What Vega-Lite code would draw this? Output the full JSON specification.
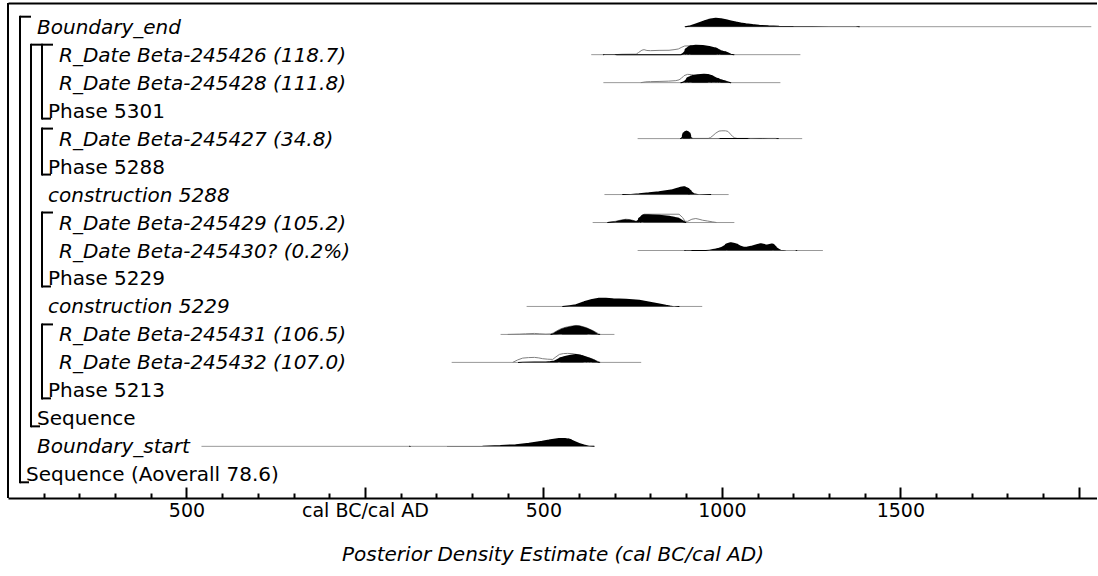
{
  "$schema": "https://vega.github.io/schema/vega-lite/v6.json",
  "autosize": "none",
  "padding": {"left": 8, "top": 3, "right": 0, "bottom": 78},
  "width": 1089,
  "height": 495,
  "config": {"view": {"stroke": null}, "font": "DejaVu Sans", "axis": {"labelOverlap": false, "grid": false}},
  "datasets": {
    "labels": [
      {"row": 0, "label": "Boundary_end", "depth": 1, "kind": "Boundary"},
      {"row": 1, "label": "R_Date Beta-245426 (118.7)", "depth": 3, "kind": "R_Date"},
      {"row": 2, "label": "R_Date Beta-245428 (111.8)", "depth": 3, "kind": "R_Date"},
      {"row": 3, "label": "Phase 5301", "depth": 2, "kind": "Phase"},
      {"row": 4, "label": "R_Date Beta-245427 (34.8)", "depth": 3, "kind": "R_Date"},
      {"row": 5, "label": "Phase 5288", "depth": 2, "kind": "Phase"},
      {"row": 6, "label": "construction 5288", "depth": 2, "kind": "Date"},
      {"row": 7, "label": "R_Date Beta-245429 (105.2)", "depth": 3, "kind": "R_Date"},
      {"row": 8, "label": "R_Date Beta-245430? (0.2%)", "depth": 3, "kind": "R_Date"},
      {"row": 9, "label": "Phase 5229", "depth": 2, "kind": "Phase"},
      {"row": 10, "label": "construction 5229", "depth": 2, "kind": "Date"},
      {"row": 11, "label": "R_Date Beta-245431 (106.5)", "depth": 3, "kind": "R_Date"},
      {"row": 12, "label": "R_Date Beta-245432 (107.0)", "depth": 3, "kind": "R_Date"},
      {"row": 13, "label": "Phase 5213", "depth": 2, "kind": "Phase"},
      {"row": 14, "label": "Sequence", "depth": 1, "kind": "Sequence"},
      {"row": 15, "label": "Boundary_start", "depth": 1, "kind": "Boundary"},
      {"row": 16, "label": "Sequence (Aoverall 78.6)", "depth": 0, "kind": "Sequence"}
    ],
    "brackets": [
      {"depth": 0, "r0": 0, "r1": 16},
      {"depth": 1, "r0": 1, "r1": 14},
      {"depth": 2, "r0": 1, "r1": 3},
      {"depth": 2, "r0": 4, "r1": 5},
      {"depth": 2, "r0": 7, "r1": 9},
      {"depth": 2, "r0": 11, "r1": 13}
    ],
    "ranges": [
      {"row": 0, "start": 898, "end": 2035},
      {"row": 1, "start": 634, "end": 1220},
      {"row": 2, "start": 668, "end": 1164},
      {"row": 4, "start": 764, "end": 1225},
      {"row": 6, "start": 671, "end": 1019},
      {"row": 7, "start": 638, "end": 1035},
      {"row": 8, "start": 764, "end": 1283},
      {"row": 10, "start": 453, "end": 945},
      {"row": 11, "start": 380, "end": 699},
      {"row": 12, "start": 243, "end": 774},
      {"row": 15, "start": -458, "end": 643}
    ],
    "prior": [
      {"row": 1, "year": 700, "p": 0}, {"row": 1, "year": 720, "p": 0.04}, {"row": 1, "year": 745, "p": 0.05}, {"row": 1, "year": 760, "p": 0.05}, {"row": 1, "year": 766, "p": 0.2}, {"row": 1, "year": 776, "p": 0.45}, {"row": 1, "year": 782, "p": 0.5}, {"row": 1, "year": 790, "p": 0.42}, {"row": 1, "year": 800, "p": 0.4}, {"row": 1, "year": 824, "p": 0.43}, {"row": 1, "year": 852, "p": 0.44}, {"row": 1, "year": 866, "p": 0.5}, {"row": 1, "year": 878, "p": 0.57}, {"row": 1, "year": 888, "p": 0.75}, {"row": 1, "year": 896, "p": 0.87}, {"row": 1, "year": 910, "p": 0.88}, {"row": 1, "year": 920, "p": 0.9}, {"row": 1, "year": 960, "p": 0.8}, {"row": 1, "year": 1000, "p": 0.4}, {"row": 1, "year": 1020, "p": 0.08}, {"row": 1, "year": 1030, "p": 0},
      {"row": 2, "year": 773, "p": 0}, {"row": 2, "year": 787, "p": 0.08}, {"row": 2, "year": 800, "p": 0.1}, {"row": 2, "year": 824, "p": 0.12}, {"row": 2, "year": 850, "p": 0.15}, {"row": 2, "year": 871, "p": 0.2}, {"row": 2, "year": 880, "p": 0.28}, {"row": 2, "year": 887, "p": 0.45}, {"row": 2, "year": 894, "p": 0.7}, {"row": 2, "year": 904, "p": 0.83}, {"row": 2, "year": 915, "p": 0.8}, {"row": 2, "year": 960, "p": 0.6}, {"row": 2, "year": 1000, "p": 0.25}, {"row": 2, "year": 1020, "p": 0.06}, {"row": 2, "year": 1025, "p": 0},
      {"row": 4, "year": 884, "p": 0}, {"row": 4, "year": 890, "p": 0.18}, {"row": 4, "year": 894, "p": 0.4}, {"row": 4, "year": 901, "p": 0.7}, {"row": 4, "year": 908, "p": 0.4}, {"row": 4, "year": 914, "p": 0.1}, {"row": 4, "year": 919, "p": 0.02}, {"row": 4, "year": 962, "p": 0.02}, {"row": 4, "year": 968, "p": 0.1}, {"row": 4, "year": 975, "p": 0.3}, {"row": 4, "year": 983, "p": 0.55}, {"row": 4, "year": 992, "p": 0.75}, {"row": 4, "year": 1000, "p": 0.78}, {"row": 4, "year": 1010, "p": 0.78}, {"row": 4, "year": 1017, "p": 0.72}, {"row": 4, "year": 1024, "p": 0.45}, {"row": 4, "year": 1030, "p": 0.22}, {"row": 4, "year": 1036, "p": 0.07}, {"row": 4, "year": 1043, "p": 0.02}, {"row": 4, "year": 1150, "p": 0.02}, {"row": 4, "year": 1158, "p": 0},
      {"row": 7, "year": 680, "p": 0}, {"row": 7, "year": 703, "p": 0.13}, {"row": 7, "year": 718, "p": 0.25}, {"row": 7, "year": 731, "p": 0.33}, {"row": 7, "year": 740, "p": 0.3}, {"row": 7, "year": 750, "p": 0.23}, {"row": 7, "year": 760, "p": 0.12}, {"row": 7, "year": 766, "p": 0.25}, {"row": 7, "year": 773, "p": 0.57}, {"row": 7, "year": 782, "p": 0.83}, {"row": 7, "year": 880, "p": 0.83}, {"row": 7, "year": 890, "p": 0.5}, {"row": 7, "year": 897, "p": 0.12}, {"row": 7, "year": 904, "p": 0.12}, {"row": 7, "year": 916, "p": 0.33}, {"row": 7, "year": 927, "p": 0.4}, {"row": 7, "year": 936, "p": 0.33}, {"row": 7, "year": 946, "p": 0.23}, {"row": 7, "year": 960, "p": 0.15}, {"row": 7, "year": 973, "p": 0.07}, {"row": 7, "year": 985, "p": 0},
      {"row": 11, "year": 400, "p": 0}, {"row": 11, "year": 433, "p": 0.03}, {"row": 11, "year": 450, "p": 0.06}, {"row": 11, "year": 475, "p": 0.1}, {"row": 11, "year": 490, "p": 0.06}, {"row": 11, "year": 507, "p": 0.03}, {"row": 11, "year": 521, "p": 0.05}, {"row": 11, "year": 528, "p": 0.15}, {"row": 11, "year": 535, "p": 0.3}, {"row": 11, "year": 545, "p": 0.5}, {"row": 11, "year": 556, "p": 0.65}, {"row": 11, "year": 568, "p": 0.77}, {"row": 11, "year": 591, "p": 0.9}, {"row": 11, "year": 600, "p": 0.88}, {"row": 11, "year": 620, "p": 0.68}, {"row": 11, "year": 640, "p": 0.36}, {"row": 11, "year": 655, "p": 0.05}, {"row": 11, "year": 660, "p": 0},
      {"row": 12, "year": 414, "p": 0}, {"row": 12, "year": 428, "p": 0.25}, {"row": 12, "year": 442, "p": 0.43}, {"row": 12, "year": 458, "p": 0.48}, {"row": 12, "year": 475, "p": 0.5}, {"row": 12, "year": 487, "p": 0.45}, {"row": 12, "year": 498, "p": 0.37}, {"row": 12, "year": 512, "p": 0.32}, {"row": 12, "year": 526, "p": 0.3}, {"row": 12, "year": 535, "p": 0.55}, {"row": 12, "year": 545, "p": 0.8}, {"row": 12, "year": 556, "p": 0.88}, {"row": 12, "year": 568, "p": 0.9}, {"row": 12, "year": 580, "p": 0.88}, {"row": 12, "year": 600, "p": 0.75}, {"row": 12, "year": 620, "p": 0.55}, {"row": 12, "year": 640, "p": 0.3}, {"row": 12, "year": 655, "p": 0.05}, {"row": 12, "year": 660, "p": 0}
    ],
    "post": [
      {"row": 0, "year": 897, "p": 0}, {"row": 0, "year": 912, "p": 0.15}, {"row": 0, "year": 927, "p": 0.33}, {"row": 0, "year": 941, "p": 0.5}, {"row": 0, "year": 955, "p": 0.67}, {"row": 0, "year": 969, "p": 0.82}, {"row": 0, "year": 983, "p": 0.9}, {"row": 0, "year": 997, "p": 0.85}, {"row": 0, "year": 1011, "p": 0.74}, {"row": 0, "year": 1025, "p": 0.62}, {"row": 0, "year": 1039, "p": 0.51}, {"row": 0, "year": 1053, "p": 0.42}, {"row": 0, "year": 1067, "p": 0.34}, {"row": 0, "year": 1085, "p": 0.26}, {"row": 0, "year": 1104, "p": 0.2}, {"row": 0, "year": 1130, "p": 0.14}, {"row": 0, "year": 1160, "p": 0.1}, {"row": 0, "year": 1200, "p": 0.07}, {"row": 0, "year": 1253, "p": 0.045}, {"row": 0, "year": 1300, "p": 0.03}, {"row": 0, "year": 1375, "p": 0.02}, {"row": 0, "year": 1385, "p": 0},
      {"row": 1, "year": 668, "p": 0}, {"row": 1, "year": 672, "p": 0.04}, {"row": 1, "year": 700, "p": 0.04}, {"row": 1, "year": 706, "p": 0}, {"row": 1, "year": 885, "p": 0}, {"row": 1, "year": 892, "p": 0.2}, {"row": 1, "year": 899, "p": 0.43}, {"row": 1, "year": 906, "p": 0.75}, {"row": 1, "year": 913, "p": 0.93}, {"row": 1, "year": 927, "p": 1.0}, {"row": 1, "year": 946, "p": 0.97}, {"row": 1, "year": 964, "p": 0.87}, {"row": 1, "year": 983, "p": 0.7}, {"row": 1, "year": 990, "p": 0.55}, {"row": 1, "year": 997, "p": 0.43}, {"row": 1, "year": 1011, "p": 0.33}, {"row": 1, "year": 1018, "p": 0.22}, {"row": 1, "year": 1025, "p": 0.1}, {"row": 1, "year": 1034, "p": 0},
      {"row": 2, "year": 885, "p": 0}, {"row": 2, "year": 892, "p": 0.12}, {"row": 2, "year": 899, "p": 0.27}, {"row": 2, "year": 908, "p": 0.6}, {"row": 2, "year": 918, "p": 0.75}, {"row": 2, "year": 932, "p": 0.83}, {"row": 2, "year": 950, "p": 0.9}, {"row": 2, "year": 960, "p": 0.87}, {"row": 2, "year": 969, "p": 0.77}, {"row": 2, "year": 983, "p": 0.53}, {"row": 2, "year": 990, "p": 0.45}, {"row": 2, "year": 997, "p": 0.33}, {"row": 2, "year": 1004, "p": 0.27}, {"row": 2, "year": 1011, "p": 0.2}, {"row": 2, "year": 1018, "p": 0.1}, {"row": 2, "year": 1025, "p": 0},
      {"row": 4, "year": 884, "p": 0}, {"row": 4, "year": 888, "p": 0.12}, {"row": 4, "year": 892, "p": 0.3}, {"row": 4, "year": 896, "p": 0.55}, {"row": 4, "year": 899, "p": 0.72}, {"row": 4, "year": 901, "p": 0.77}, {"row": 4, "year": 903, "p": 0.72}, {"row": 4, "year": 906, "p": 0.55}, {"row": 4, "year": 910, "p": 0.3}, {"row": 4, "year": 914, "p": 0.12}, {"row": 4, "year": 919, "p": 0.03}, {"row": 4, "year": 990, "p": 0.03}, {"row": 4, "year": 995, "p": 0}, {"row": 4, "year": 1072, "p": 0}, {"row": 4, "year": 1080, "p": 0.04}, {"row": 4, "year": 1110, "p": 0.05}, {"row": 4, "year": 1130, "p": 0.04}, {"row": 4, "year": 1150, "p": 0.03}, {"row": 4, "year": 1158, "p": 0},
      {"row": 6, "year": 722, "p": 0}, {"row": 6, "year": 745, "p": 0.06}, {"row": 6, "year": 768, "p": 0.13}, {"row": 6, "year": 796, "p": 0.22}, {"row": 6, "year": 824, "p": 0.33}, {"row": 6, "year": 843, "p": 0.43}, {"row": 6, "year": 862, "p": 0.53}, {"row": 6, "year": 876, "p": 0.68}, {"row": 6, "year": 885, "p": 0.77}, {"row": 6, "year": 894, "p": 0.83}, {"row": 6, "year": 901, "p": 0.72}, {"row": 6, "year": 908, "p": 0.53}, {"row": 6, "year": 915, "p": 0.3}, {"row": 6, "year": 922, "p": 0.13}, {"row": 6, "year": 936, "p": 0.03}, {"row": 6, "year": 969, "p": 0},
      {"row": 7, "year": 680, "p": 0}, {"row": 7, "year": 703, "p": 0.13}, {"row": 7, "year": 718, "p": 0.25}, {"row": 7, "year": 731, "p": 0.33}, {"row": 7, "year": 740, "p": 0.3}, {"row": 7, "year": 750, "p": 0.23}, {"row": 7, "year": 760, "p": 0.12}, {"row": 7, "year": 766, "p": 0.25}, {"row": 7, "year": 773, "p": 0.57}, {"row": 7, "year": 782, "p": 0.83}, {"row": 7, "year": 794, "p": 0.82}, {"row": 7, "year": 806, "p": 0.8}, {"row": 7, "year": 824, "p": 0.77}, {"row": 7, "year": 838, "p": 0.72}, {"row": 7, "year": 852, "p": 0.67}, {"row": 7, "year": 866, "p": 0.58}, {"row": 7, "year": 876, "p": 0.5}, {"row": 7, "year": 883, "p": 0.38}, {"row": 7, "year": 890, "p": 0.23}, {"row": 7, "year": 899, "p": 0},
      {"row": 8, "year": 896, "p": 0}, {"row": 8, "year": 899, "p": 0.05}, {"row": 8, "year": 913, "p": 0.05}, {"row": 8, "year": 917, "p": 0}, {"row": 8, "year": 955, "p": 0}, {"row": 8, "year": 965, "p": 0.08}, {"row": 8, "year": 975, "p": 0.15}, {"row": 8, "year": 983, "p": 0.2}, {"row": 8, "year": 992, "p": 0.28}, {"row": 8, "year": 1001, "p": 0.37}, {"row": 8, "year": 1010, "p": 0.55}, {"row": 8, "year": 1018, "p": 0.75}, {"row": 8, "year": 1025, "p": 0.83}, {"row": 8, "year": 1032, "p": 0.78}, {"row": 8, "year": 1039, "p": 0.7}, {"row": 8, "year": 1050, "p": 0.5}, {"row": 8, "year": 1061, "p": 0.37}, {"row": 8, "year": 1072, "p": 0.4}, {"row": 8, "year": 1086, "p": 0.5}, {"row": 8, "year": 1098, "p": 0.62}, {"row": 8, "year": 1109, "p": 0.73}, {"row": 8, "year": 1116, "p": 0.68}, {"row": 8, "year": 1123, "p": 0.57}, {"row": 8, "year": 1131, "p": 0.62}, {"row": 8, "year": 1140, "p": 0.7}, {"row": 8, "year": 1146, "p": 0.55}, {"row": 8, "year": 1151, "p": 0.37}, {"row": 8, "year": 1158, "p": 0.2}, {"row": 8, "year": 1165, "p": 0.07}, {"row": 8, "year": 1179, "p": 0.02}, {"row": 8, "year": 1205, "p": 0.01}, {"row": 8, "year": 1210, "p": 0},
      {"row": 10, "year": 554, "p": 0}, {"row": 10, "year": 573, "p": 0.12}, {"row": 10, "year": 591, "p": 0.23}, {"row": 10, "year": 605, "p": 0.4}, {"row": 10, "year": 619, "p": 0.57}, {"row": 10, "year": 637, "p": 0.75}, {"row": 10, "year": 656, "p": 0.87}, {"row": 10, "year": 675, "p": 0.86}, {"row": 10, "year": 693, "p": 0.83}, {"row": 10, "year": 712, "p": 0.8}, {"row": 10, "year": 731, "p": 0.77}, {"row": 10, "year": 750, "p": 0.72}, {"row": 10, "year": 768, "p": 0.67}, {"row": 10, "year": 787, "p": 0.55}, {"row": 10, "year": 806, "p": 0.43}, {"row": 10, "year": 825, "p": 0.3}, {"row": 10, "year": 843, "p": 0.17}, {"row": 10, "year": 855, "p": 0.09}, {"row": 10, "year": 866, "p": 0.03}, {"row": 10, "year": 880, "p": 0},
      {"row": 11, "year": 521, "p": 0}, {"row": 11, "year": 528, "p": 0.12}, {"row": 11, "year": 535, "p": 0.27}, {"row": 11, "year": 545, "p": 0.45}, {"row": 11, "year": 554, "p": 0.6}, {"row": 11, "year": 563, "p": 0.7}, {"row": 11, "year": 573, "p": 0.77}, {"row": 11, "year": 582, "p": 0.85}, {"row": 11, "year": 591, "p": 0.9}, {"row": 11, "year": 600, "p": 0.87}, {"row": 11, "year": 610, "p": 0.78}, {"row": 11, "year": 619, "p": 0.67}, {"row": 11, "year": 629, "p": 0.52}, {"row": 11, "year": 638, "p": 0.37}, {"row": 11, "year": 645, "p": 0.22}, {"row": 11, "year": 652, "p": 0.07}, {"row": 11, "year": 657, "p": 0},
      {"row": 12, "year": 430, "p": 0}, {"row": 12, "year": 442, "p": 0.07}, {"row": 12, "year": 475, "p": 0.09}, {"row": 12, "year": 507, "p": 0.1}, {"row": 12, "year": 520, "p": 0.13}, {"row": 12, "year": 531, "p": 0.2}, {"row": 12, "year": 540, "p": 0.35}, {"row": 12, "year": 549, "p": 0.53}, {"row": 12, "year": 561, "p": 0.65}, {"row": 12, "year": 573, "p": 0.73}, {"row": 12, "year": 582, "p": 0.8}, {"row": 12, "year": 591, "p": 0.83}, {"row": 12, "year": 600, "p": 0.78}, {"row": 12, "year": 610, "p": 0.7}, {"row": 12, "year": 620, "p": 0.58}, {"row": 12, "year": 629, "p": 0.47}, {"row": 12, "year": 636, "p": 0.37}, {"row": 12, "year": 643, "p": 0.27}, {"row": 12, "year": 650, "p": 0.12}, {"row": 12, "year": 657, "p": 0},
      {"row": 15, "year": 125, "p": 0}, {"row": 15, "year": 130, "p": 0.02}, {"row": 15, "year": 230, "p": 0.03}, {"row": 15, "year": 330, "p": 0.07}, {"row": 15, "year": 380, "p": 0.13}, {"row": 15, "year": 423, "p": 0.22}, {"row": 15, "year": 460, "p": 0.37}, {"row": 15, "year": 497, "p": 0.55}, {"row": 15, "year": 520, "p": 0.7}, {"row": 15, "year": 544, "p": 0.83}, {"row": 15, "year": 560, "p": 0.84}, {"row": 15, "year": 572, "p": 0.77}, {"row": 15, "year": 586, "p": 0.55}, {"row": 15, "year": 600, "p": 0.33}, {"row": 15, "year": 614, "p": 0.18}, {"row": 15, "year": 628, "p": 0.07}, {"row": 15, "year": 642, "p": 0}
    ]
  },
  "layer": [
    {
      "layer": [
        {
          "data": {"name": "ranges"},
          "mark": {"type": "rule", "color": "#999999", "strokeWidth": 1},
          "encoding": {
            "x": {
              "field": "start", "type": "quantitative",
              "scale": {"domain": [-1000, 2051], "nice": false, "zero": false},
              "axis": {
                "title": "Posterior Density Estimate (cal BC/cal AD)",
                "values": [-900, -800, -700, -600, -500, -400, -300, -200, -100, 0, 100, 200, 300, 400, 500, 600, 700, 800, 900, 1000, 1100, 1200, 1300, 1400, 1500, 1600, 1700, 1800, 1900, 2000],
                "labelExpr": "datum.value === 0 ? 'cal BC/cal AD' : ((datum.value % 500 === 0 && datum.value < 2000) ? format(abs(datum.value), 'd') : '')",
                "tickSize": {"condition": {"test": "datum.value % 500 === 0", "value": -11}, "value": -5},
                "tickWidth": 2, "tickColor": "black", "domainColor": "black", "domainWidth": 2, "grid": false,
                "labelFont": "DejaVu Sans", "labelFontSize": 19, "labelColor": "black", "labelPadding": 14,
                "labelFlush": false, "labelOverlap": false, "labelBound": false,
                "titleFont": "DejaVu Sans", "titleFontSize": 20, "titleFontStyle": "italic", "titleFontWeight": "normal", "titleColor": "black", "titlePadding": 18
              }
            },
            "x2": {"field": "end"},
            "y": {"field": "row", "type": "ordinal", "scale": {"type": "point", "domain": [0,1,2,3,4,5,6,7,8,9,10,11,12,13,14,15,16], "padding": 0.847}, "axis": null}
          }
        },
        {
          "data": {"name": "prior"},
          "mark": {"type": "line", "color": "#808080", "strokeWidth": 1, "orient": "vertical"},
          "encoding": {
            "x": {
              "field": "year", "type": "quantitative",
              "scale": {"domain": [-1000, 2051], "nice": false, "zero": false},
              "axis": {
                "title": "Posterior Density Estimate (cal BC/cal AD)",
                "values": [-900, -800, -700, -600, -500, -400, -300, -200, -100, 0, 100, 200, 300, 400, 500, 600, 700, 800, 900, 1000, 1100, 1200, 1300, 1400, 1500, 1600, 1700, 1800, 1900, 2000],
                "labelExpr": "datum.value === 0 ? 'cal BC/cal AD' : ((datum.value % 500 === 0 && datum.value < 2000) ? format(abs(datum.value), 'd') : '')",
                "tickSize": {"condition": {"test": "datum.value % 500 === 0", "value": -11}, "value": -5},
                "tickWidth": 2, "tickColor": "black", "domainColor": "black", "domainWidth": 2, "grid": false,
                "labelFont": "DejaVu Sans", "labelFontSize": 19, "labelColor": "black", "labelPadding": 14,
                "labelFlush": false, "labelOverlap": false, "labelBound": false,
                "titleFont": "DejaVu Sans", "titleFontSize": 20, "titleFontStyle": "italic", "titleFontWeight": "normal", "titleColor": "black", "titlePadding": 18
              }
            },
            "y": {"field": "row", "type": "ordinal", "scale": {"type": "point", "domain": [0,1,2,3,4,5,6,7,8,9,10,11,12,13,14,15,16], "padding": 0.847}, "axis": null},
            "yOffset": {"field": "p", "type": "quantitative", "scale": {"domain": [0, 1], "range": [0, -10], "nice": false}},
            "detail": {"field": "row", "type": "nominal"},
            "order": {"field": "year", "type": "quantitative"}
          }
        },
        {
          "data": {"name": "post"},
          "mark": {"type": "trail", "color": "black"},
          "encoding": {
            "x": {
              "field": "year", "type": "quantitative",
              "scale": {"domain": [-1000, 2051], "nice": false, "zero": false},
              "axis": {
                "title": "Posterior Density Estimate (cal BC/cal AD)",
                "values": [-900, -800, -700, -600, -500, -400, -300, -200, -100, 0, 100, 200, 300, 400, 500, 600, 700, 800, 900, 1000, 1100, 1200, 1300, 1400, 1500, 1600, 1700, 1800, 1900, 2000],
                "labelExpr": "datum.value === 0 ? 'cal BC/cal AD' : ((datum.value % 500 === 0 && datum.value < 2000) ? format(abs(datum.value), 'd') : '')",
                "tickSize": {"condition": {"test": "datum.value % 500 === 0", "value": -11}, "value": -5},
                "tickWidth": 2, "tickColor": "black", "domainColor": "black", "domainWidth": 2, "grid": false,
                "labelFont": "DejaVu Sans", "labelFontSize": 19, "labelColor": "black", "labelPadding": 14,
                "labelFlush": false, "labelOverlap": false, "labelBound": false,
                "titleFont": "DejaVu Sans", "titleFontSize": 20, "titleFontStyle": "italic", "titleFontWeight": "normal", "titleColor": "black", "titlePadding": 18
              }
            },
            "y": {"field": "row", "type": "ordinal", "scale": {"type": "point", "domain": [0,1,2,3,4,5,6,7,8,9,10,11,12,13,14,15,16], "padding": 0.847}, "axis": null},
            "yOffset": {"field": "p", "type": "quantitative", "scale": {"domain": [0, 1], "range": [0, -5], "nice": false}},
            "size": {"field": "p", "type": "quantitative", "scale": {"domain": [0, 1], "range": [0, 10], "nice": false}, "legend": null},
            "detail": {"field": "row", "type": "nominal"},
            "order": {"field": "year", "type": "quantitative"}
          }
        }
      ],
      "resolve": {"scale": {"yOffset": "independent"}}
    },
    {
      "layer": [
        {
          "data": {"name": "brackets"},
          "mark": {"type": "rule", "color": "black", "strokeWidth": 2, "strokeCap": "square", "yOffset": -10, "y2Offset": 8},
          "encoding": {
            "x": {"field": "depth", "type": "quantitative", "scale": {"domain": [-1.090909, 97.909091], "nice": false, "zero": false}, "axis": null},
            "y": {"field": "r0", "type": "ordinal", "scale": {"type": "point", "domain": [0,1,2,3,4,5,6,7,8,9,10,11,12,13,14,15,16], "padding": 0.847}, "axis": null},
            "y2": {"field": "r1"}
          }
        },
        {
          "data": {"name": "brackets"},
          "mark": {"type": "rule", "color": "black", "strokeWidth": 2, "yOffset": -10, "x2Offset": 11},
          "encoding": {
            "x": {"field": "depth", "type": "quantitative", "scale": {"domain": [-1.090909, 97.909091], "nice": false, "zero": false}, "axis": null},
            "x2": {"field": "depth"},
            "y": {"field": "r0", "type": "ordinal", "scale": {"type": "point", "domain": [0,1,2,3,4,5,6,7,8,9,10,11,12,13,14,15,16], "padding": 0.847}, "axis": null}
          }
        },
        {
          "data": {"name": "brackets"},
          "mark": {"type": "rule", "color": "black", "strokeWidth": 2, "yOffset": 8, "x2Offset": 9},
          "encoding": {
            "x": {"field": "depth", "type": "quantitative", "scale": {"domain": [-1.090909, 97.909091], "nice": false, "zero": false}, "axis": null},
            "x2": {"field": "depth"},
            "y": {"field": "r1", "type": "ordinal", "scale": {"type": "point", "domain": [0,1,2,3,4,5,6,7,8,9,10,11,12,13,14,15,16], "padding": 0.847}, "axis": null}
          }
        },
        {
          "data": {"name": "labels"},
          "transform": [{"filter": {"field": "kind", "oneOf": ["Phase", "Sequence"]}}],
          "mark": {"type": "text", "align": "left", "baseline": "middle", "dx": 6, "dy": 1, "font": "DejaVu Sans", "fontSize": 20, "color": "black"},
          "encoding": {
            "x": {"field": "depth", "type": "quantitative", "scale": {"domain": [-1.090909, 97.909091], "nice": false, "zero": false}, "axis": null},
            "y": {"field": "row", "type": "ordinal", "scale": {"type": "point", "domain": [0,1,2,3,4,5,6,7,8,9,10,11,12,13,14,15,16], "padding": 0.847}, "axis": null},
            "text": {"field": "label"}
          }
        },
        {
          "data": {"name": "labels"},
          "transform": [{"filter": {"field": "kind", "oneOf": ["Boundary", "R_Date", "Date"]}}],
          "mark": {"type": "text", "align": "left", "baseline": "middle", "dx": 6, "dy": 1, "font": "DejaVu Sans", "fontSize": 20, "fontStyle": "italic", "color": "black"},
          "encoding": {
            "x": {"field": "depth", "type": "quantitative", "scale": {"domain": [-1.090909, 97.909091], "nice": false, "zero": false}, "axis": null},
            "y": {"field": "row", "type": "ordinal", "scale": {"type": "point", "domain": [0,1,2,3,4,5,6,7,8,9,10,11,12,13,14,15,16], "padding": 0.847}, "axis": null},
            "text": {"field": "label"}
          }
        }
      ]
    },
    {
      "data": {"values": [{"edge": "left"}]},
      "mark": {"type": "rule", "color": "black", "strokeWidth": 2},
      "encoding": {
        "x": {
          "datum": -1000, "type": "quantitative",
          "scale": {"domain": [-1000, 2051], "nice": false, "zero": false},
          "axis": {"orient": "top", "labels": false, "ticks": false, "grid": false, "title": null, "domain": true, "domainColor": "black", "domainWidth": 2}
        }
      }
    }
  ],
  "resolve": {"scale": {"x": "independent"}, "axis": {"x": "independent"}}
}
